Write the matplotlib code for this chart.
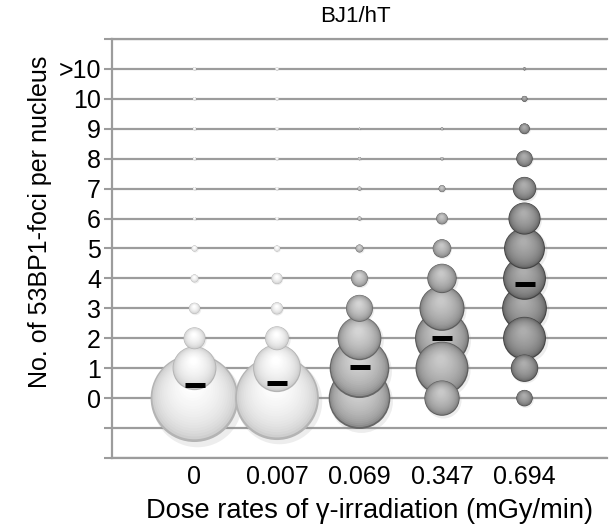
import numpy as np
import matplotlib
matplotlib.use("Agg")
import matplotlib.pyplot as plt
from matplotlib.colors import to_rgb

plt.rcParams['font.family'] = ['Liberation Sans', 'DejaVu Sans']

# categories
dose_rates = ['0', '0.007', '0.069', '0.347', '0.694']
foci_labels = ['0', '1', '2', '3', '4', '5', '6', '7', '8', '9', '10', '>10']

# % of nuclei with n foci (0..10, >10)
pct_0000 = [74.0, 18.5, 4.6, 1.2, 0.6, 0.35, 0.09, 0.09, 0.09, 0.09, 0.09, 0.09]
pct_0007 = [67.5, 22.0, 5.5, 1.4, 1.2, 0.35, 0.09, 0.09, 0.09, 0.09, 0.09, 0.09]
pct_0069 = [36.5, 34.2, 18.4, 7.0, 2.75, 0.6, 0.15, 0.15, 0.09, 0.04, 0.0, 0.0]
pct_0347 = [12.0, 27.0, 28.0, 19.5, 8.3, 3.3, 1.3, 0.45, 0.1, 0.08, 0.0, 0.0]
pct_0694 = [2.6, 7.2, 17.7, 19.3, 17.7, 16.1, 9.9, 5.3, 2.6, 1.1, 0.33, 0.08]
all_pct = [pct_0000, pct_0007, pct_0069, pct_0347, pct_0694]

# mean number of foci per nucleus
mean_foci = [0.43, 0.50, 1.04, 2.02, 3.82]

# sphere shading per dose rate (rim colour, highlight colour)
rim_colors = ['#b4b4b4', '#b4b4b4', '#666666', '#5c5c5c', '#444444']
hi_colors = ['#ffffff', '#ffffff', '#d4d4d4', '#c8c8c8', '#adadad']

dpi = 100
fig = plt.figure(figsize=(6.09, 5.32), dpi=dpi)
ax = fig.add_axes([112 / 609, 1 - 458 / 532, (607 - 112) / 609, (458 - 39) / 532])
ax.set_xlim(0, 6)
ax.set_ylim(-2, 12)

grey = '#9c9c9c'
ax.set_yticks(range(-2, 13))
ax.set_yticklabels(['', ''] + foci_labels + [''])
ax.set_xticks(range(1, 6))
ax.set_xticklabels(dose_rates)
ax.tick_params(axis='y', length=6, width=1.5, color=grey, labelsize=18, pad=2)
ax.tick_params(axis='x', length=0, labelsize=18, pad=5)
ax.grid(axis='y', color=grey, lw=1.6)
ax.set_axisbelow(True)
for side in ['left', 'bottom', 'top']:
    ax.spines[side].set_color(grey)
    ax.spines[side].set_linewidth(1.6)
ax.spines['right'].set_visible(False)

o = ax.transData.transform((0, 0))
px_x = ax.transData.transform((1, 0))[0] - o[0]
px_y = ax.transData.transform((0, 1))[1] - o[1]
k = 5.1  # bubble radius in px per sqrt(percent)
n = 20
t = np.linspace(0, 1, n)

for col, pcts in enumerate(all_pct):
    xc = col + 1
    rim = np.array(to_rgb(rim_colors[col]))
    hi = np.array(to_rgb(hi_colors[col]))
    order = np.argsort(pcts)[::-1]
    for lvl in order:
        p = pcts[lvl]
        if p <= 0:
            continue
        R = k * np.sqrt(p)
        # soft shadow
        ax.scatter([xc + 0.05 * R / px_x], [lvl - 0.08 * R / px_y],
                   s=[(2 * R * 1.02 * 72 / dpi) ** 2], color='#8a8a8a',
                   alpha=0.15, linewidths=0, zorder=2)
        radii = R * (1 - 0.85 * t)
        dx = -0.05 * R * t / px_x
        dy = 0.33 * R * t / px_y
        cols = rim + (hi - rim) * (t[:, None] ** 0.35)
        sizes = (2 * radii * 72 / dpi) ** 2
        ax.scatter(xc + dx, lvl + dy, s=sizes, c=cols, linewidths=0, zorder=3)

ax.plot(range(1, 6), mean_foci, linestyle='none', marker='_',
        markersize=14, mew=3.6, color='black', zorder=5)

fig.text(355 / 609, 1 - 17 / 532, 'BJ1/hT', ha='center', va='center', fontsize=16)
fig.text(40 / 609, 1 - 222 / 532, 'No. of 53BP1-foci per nucleus', rotation=90,
         ha='center', va='center', fontsize=18)
fig.text(370 / 609, 1 - 511 / 532, 'Dose rates of \u03b3-irradiation (mGy/min)',
         ha='center', va='center', fontsize=19.6)

fig.savefig('out.png', dpi=dpi)
